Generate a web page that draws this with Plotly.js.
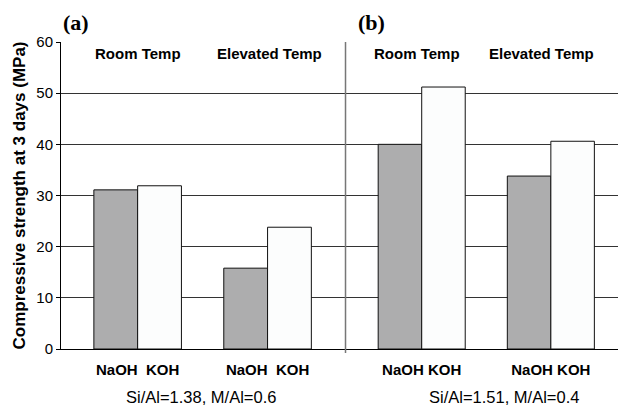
<!DOCTYPE html>
<html>
<head>
<meta charset="utf-8">
<script src="https://cdn.plot.ly/plotly-3.0.1.min.js"></script>
<style>
  html, body { margin: 0; padding: 0; background: #ffffff; }
  #chart { width: 619px; height: 406px; }
</style>
</head>
<body>
<div id="chart"></div>
<script>
// Compressive strength at 3 days (MPa) for two mix designs
const conditions = ['Room Temp', 'Elevated Temp'];
const naohA = [31.1, 15.8];
const kohA = [31.9, 23.8];
const naohB = [40.0, 33.8];
const kohB = [51.2, 40.6];
const alkaliTickText = ['NaOH\u00a0\u00a0KOH', 'NaOH KOH'];
const panelLabels = ['(a)', '(b)'];
const ratioLabels = ['Si/Al=1.38, M/Al=0.6', 'Si/Al=1.51, M/Al=0.4'];
const yTicks = [0, 10, 20, 30, 40, 50, 60];

const SANS = 'Liberation Sans, Arial, Helvetica, sans-serif';
const SERIF = 'Liberation Serif, Times New Roman, serif';
const GREY = '#adadae';
const WHITE = '#fcfdfd';

function bars(xs, ys, color, xaxis) {
  return {
    type: 'bar', x: xs, y: ys, xaxis: xaxis, yaxis: 'y',
    marker: { color: color, line: { color: '#111111', width: 1 } },
    hoverinfo: 'skip', showlegend: false
  };
}

const traces = [
  bars(conditions, naohA, GREY, 'x'),
  bars(conditions, kohA, WHITE, 'x'),
  bars(conditions, naohB, GREY, 'x2'),
  bars(conditions, kohB, WHITE, 'x2')
];

const split = 0.5108;

const xCommon = {
  type: 'category',
  showline: true, linecolor: '#000000', linewidth: 1,
  ticks: '', showgrid: false, zeroline: false,
  tickvals: conditions,
  ticklabelstandoff: 7,
  tickfont: { family: SANS, size: 15, color: '#000000', weight: 700 },
  fixedrange: true
};

const condFont = { family: SANS, size: 15, color: '#000000', weight: 700 };
const panelFont = { family: SERIF, size: 22, color: '#000000', weight: 700 };
const ratioFont = { family: SANS, size: 16.5, color: '#000000' };

function note(xref, yref, x, y, text, font, xshift) {
  return { xref: xref, yref: yref, x: x, y: y, text: text, showarrow: false,
           xanchor: 'center', yanchor: 'middle', font: font, xshift: xshift || 0 };
}

const annotations = [
  note('x', 'y', conditions[0], 57.8, conditions[0], condFont, 0),
  note('x', 'y', conditions[1], 57.8, conditions[1], condFont, 2),
  note('x2', 'y', conditions[0], 57.8, conditions[0], condFont, -5),
  note('x2', 'y', conditions[1], 57.8, conditions[1], condFont, -9),
  note('paper', 'paper', 0.027, 1.062, panelLabels[0], panelFont),
  note('paper', 'paper', 0.5566, 1.062, panelLabels[1], panelFont),
  note('paper', 'paper', 0.2513, -0.156, ratioLabels[0], ratioFont),
  note('paper', 'paper', 0.795, -0.156, ratioLabels[1], ratioFont)
];

const layout = {
  width: 619, height: 406,
  margin: { l: 61, r: 1, t: 42, b: 57 },
  paper_bgcolor: '#ffffff', plot_bgcolor: '#ffffff',
  barmode: 'group', bargap: 0.326, bargroupgap: 0,
  showlegend: false,
  xaxis: Object.assign({}, xCommon, {
    domain: [0, split], anchor: 'y',
    range: [-0.59, 1.60],
    ticktext: alkaliTickText.map(() => alkaliTickText[0])
  }),
  xaxis2: Object.assign({}, xCommon, {
    domain: [split, 1], anchor: 'y',
    range: [-0.59, 1.52],
    ticktext: alkaliTickText.map(() => alkaliTickText[1])
  }),
  yaxis: {
    range: [0, 60], tickvals: yTicks,
    showline: true, linecolor: '#000000', linewidth: 1,
    ticks: 'outside', ticklen: 4, tickcolor: '#000000',
    showgrid: true, gridcolor: '#333333', gridwidth: 1,
    zeroline: false,
    tickfont: { family: SANS, size: 15, color: '#000000' },
    title: { text: 'Compressive strength at 3 days (MPa)',
             font: { family: SANS, size: 17, color: '#000000', weight: 700 }, standoff: 6 },
    fixedrange: true
  },
  shapes: [
    { type: 'line', xref: 'paper', yref: 'paper', x0: split, x1: split, y0: -0.013, y1: 1,
      line: { color: '#777777', width: 1.5 } }
  ],
  annotations: annotations
};

Plotly.newPlot('chart', traces, layout, { staticPlot: true, displayModeBar: false });
</script>
</body>
</html>
